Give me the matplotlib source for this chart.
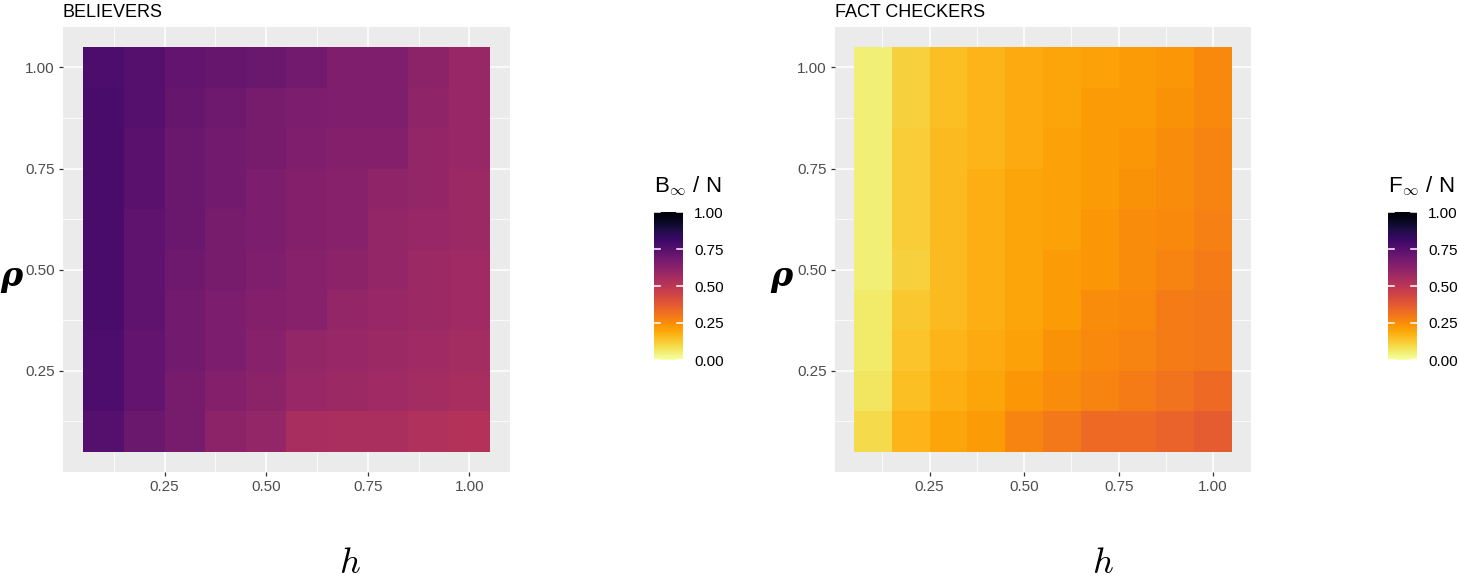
import numpy as np
import matplotlib
matplotlib.use("Agg")
import matplotlib.pyplot as plt
from matplotlib.colors import Normalize

plt.rcParams['font.family'] = ['Liberation Sans', 'DejaVu Sans']
plt.rcParams['mathtext.fontset'] = 'cm'

# grid of parameters
h_vals = [0.1, 0.2, 0.3, 0.4, 0.5, 0.6, 0.7, 0.8, 0.9, 1.0]
rho_vals = [0.1, 0.2, 0.3, 0.4, 0.5, 0.6, 0.7, 0.8, 0.9, 1.0]

# believers fraction, rows = rho (0.1 -> 1.0), cols = h (0.1 -> 1.0)
believers = [
    [0.75, 0.70, 0.67, 0.62, 0.60, 0.55, 0.54, 0.54, 0.53, 0.52],
    [0.77, 0.72, 0.67, 0.64, 0.62, 0.59, 0.58, 0.57, 0.56, 0.55],
    [0.77, 0.72, 0.68, 0.66, 0.63, 0.60, 0.59, 0.58, 0.57, 0.56],
    [0.78, 0.73, 0.68, 0.66, 0.64, 0.63, 0.60, 0.59, 0.58, 0.57],
    [0.78, 0.73, 0.69, 0.67, 0.65, 0.63, 0.62, 0.60, 0.58, 0.57],
    [0.78, 0.73, 0.70, 0.67, 0.66, 0.64, 0.63, 0.60, 0.59, 0.58],
    [0.78, 0.74, 0.70, 0.68, 0.66, 0.64, 0.63, 0.61, 0.60, 0.58],
    [0.78, 0.74, 0.70, 0.68, 0.67, 0.65, 0.64, 0.64, 0.60, 0.59],
    [0.78, 0.75, 0.71, 0.69, 0.67, 0.66, 0.65, 0.65, 0.61, 0.59],
    [0.77, 0.75, 0.72, 0.71, 0.70, 0.68, 0.65, 0.65, 0.62, 0.59],
]

# fact checkers fraction
fact_checkers = [
    [0.09, 0.17, 0.20, 0.22, 0.27, 0.30, 0.33, 0.33, 0.35, 0.37],
    [0.07, 0.15, 0.18, 0.20, 0.23, 0.25, 0.27, 0.29, 0.31, 0.33],
    [0.06, 0.14, 0.17, 0.19, 0.21, 0.24, 0.26, 0.27, 0.29, 0.30],
    [0.06, 0.13, 0.16, 0.18, 0.20, 0.22, 0.25, 0.26, 0.29, 0.30],
    [0.05, 0.11, 0.16, 0.18, 0.20, 0.22, 0.23, 0.25, 0.27, 0.29],
    [0.05, 0.12, 0.16, 0.18, 0.20, 0.21, 0.23, 0.25, 0.26, 0.28],
    [0.05, 0.12, 0.16, 0.18, 0.20, 0.21, 0.22, 0.24, 0.25, 0.27],
    [0.05, 0.12, 0.16, 0.17, 0.19, 0.21, 0.22, 0.23, 0.25, 0.27],
    [0.05, 0.11, 0.15, 0.17, 0.19, 0.20, 0.22, 0.22, 0.24, 0.26],
    [0.05, 0.11, 0.15, 0.17, 0.19, 0.20, 0.21, 0.22, 0.23, 0.26],
]

ticks = [0.25, 0.50, 0.75, 1.00]
minor = [0.125, 0.375, 0.625, 0.875]
cb_ticks = [0.0, 0.25, 0.5, 0.75, 1.0]

W, H = 1459, 580
fig = plt.figure(figsize=(W / 100, H / 100), dpi=100)

# title, data, legend title, panel rect, colorbar rect, rho x, h x (pixels)
panels = [
    ("BELIEVERS", believers, r"B$_{\infty}$ / N",
     [63 / W, 108 / H, 447 / W, 445 / H], [654 / W, 220 / H, 29 / W, 148 / H], 11, 350),
    ("FACT CHECKERS", fact_checkers, r"F$_{\infty}$ / N",
     [835 / W, 108 / H, 416 / W, 445 / H], [1388 / W, 220 / H, 29 / W, 148 / H], 781, 1103),
]

h_edges = np.append(np.array(h_vals) - 0.05, h_vals[-1] + 0.05)
rho_edges = np.append(np.array(rho_vals) - 0.05, rho_vals[-1] + 0.05)

norm = Normalize(0, 1)
for title, data, clab, rect, crect, rx, hx in panels:
    ax = fig.add_axes(rect)
    ax.set_facecolor('#ebebeb')
    for t in ticks:
        ax.axvline(t, color='white', lw=1.1, zorder=0)
        ax.axhline(t, color='white', lw=1.1, zorder=0)
    for t in minor:
        ax.axvline(t, color='white', lw=0.55, zorder=0)
        ax.axhline(t, color='white', lw=0.55, zorder=0)
    mesh = ax.pcolormesh(h_edges, rho_edges, np.array(data), cmap='inferno_r',
                         norm=norm, zorder=1)
    ax.set_xlim(0, 1.1)
    ax.set_ylim(0, 1.1)
    ax.set_xticks(ticks)
    ax.set_yticks(ticks)
    ax.set_xticklabels(['%.2f' % t for t in ticks])
    ax.set_yticklabels(['%.2f' % t for t in ticks])
    ax.tick_params(length=3, width=0.9, color='#333333', labelcolor='#4d4d4d',
                   labelsize=11, pad=3)
    for s in ax.spines.values():
        s.set_visible(False)
    ax.set_title(title, loc='left', fontsize=13, pad=7)

    # axis titles placed like the ggplot output
    fig.text(hx / W, 1 - 546 / H, r'$h$', fontsize=26, ha='center', va='top')
    fig.text(rx / W, 1 - 276 / H, 'ρ', fontsize=24, fontfamily='DejaVu Serif',
             fontstyle='italic', fontweight='bold', ha='center', va='center')

    cax = fig.add_axes(crect)
    cb = fig.colorbar(mesh, cax=cax, ticks=cb_ticks)
    cb.outline.set_visible(False)
    cb.ax.tick_params(length=0, labelsize=11, pad=8)
    cb.ax.set_yticklabels(['%.2f' % t for t in cb_ticks])
    for t in cb_ticks:
        cax.plot([0, 0.2], [t, t], color='white', lw=1.1, transform=cax.get_yaxis_transform())
        cax.plot([0.8, 1.0], [t, t], color='white', lw=1.1, transform=cax.get_yaxis_transform())
    cax.set_title(clab, loc='left', fontsize=16, pad=14)

fig.savefig('out.png', dpi=100)
